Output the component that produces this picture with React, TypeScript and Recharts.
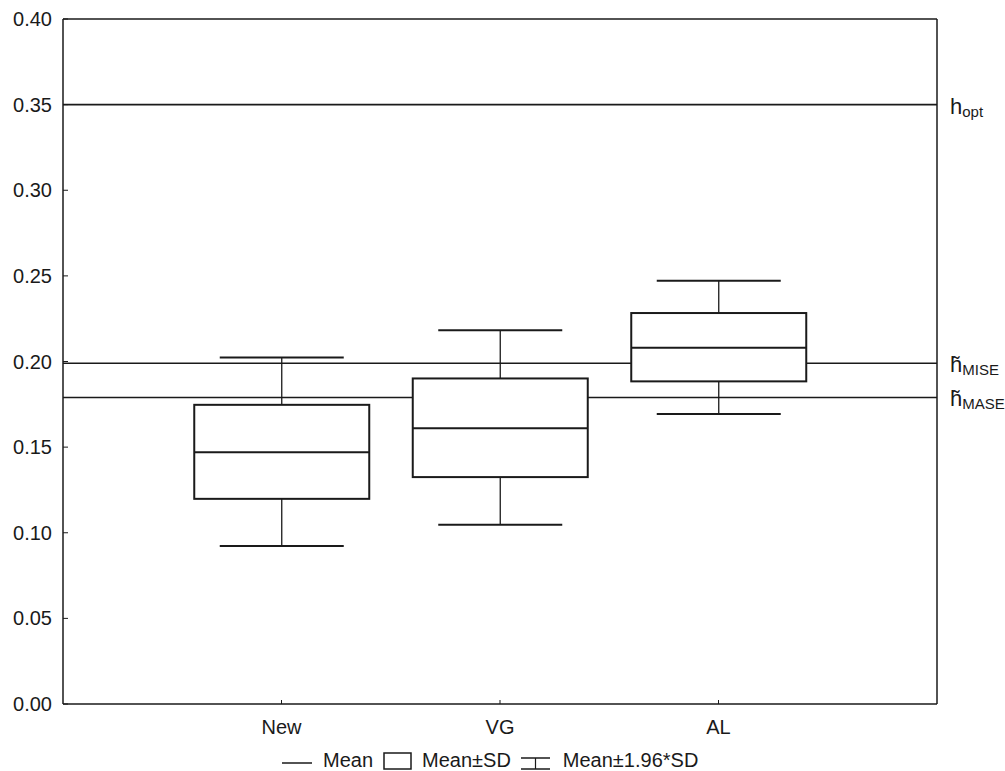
import { Bar, ComposedChart, ReferenceLine, XAxis, YAxis } from "recharts"

// groups and their summary stats (bandwidth estimates)
const groups = ["New", "VG", "AL"]
const means = [0.147, 0.161, 0.208]
const sdLow = [0.1198, 0.1325, 0.1884]
const sdHigh = [0.1747, 0.1901, 0.2283]
const ciLow = [0.0923, 0.1046, 0.1693]
const ciHigh = [0.2024, 0.2182, 0.2472]

const yTicks = [0, 0.05, 0.1, 0.15, 0.2, 0.25, 0.3, 0.35, 0.4]

// reference bandwidths drawn across the plot
const refValues = [0.35, 0.199, 0.179]
const refSubs = ["opt", "MISE", "MASE"]
const refTilde = [false, true, true]

const FONT = "'Liberation Sans', Arial, sans-serif"
const INK = "#1a1a1a"

const data = groups.map((name, i) => ({
    pos: i + 1,
    name,
    mean: means[i],
    sdLow: sdLow[i],
    sdHigh: sdHigh[i],
    range: [ciLow[i], ciHigh[i]],
}))

// draws whiskers, box and mean line inside the bar's pixel span
const BoxShape = (props: any) => {
    const { x, y, width, height, payload } = props
    const [lo, hi] = payload.range
    const top = height >= 0 ? y : y + height
    const h = Math.abs(height)
    const toY = (v: number) => top + ((hi - v) / (hi - lo)) * h
    const cx = x + width / 2
    const cap = 62
    return (
        <g>
            <line x1={cx} x2={cx} y1={toY(hi)} y2={toY(payload.sdHigh)} stroke={INK} strokeWidth={1.3} />
            <line x1={cx} x2={cx} y1={toY(payload.sdLow)} y2={toY(lo)} stroke={INK} strokeWidth={1.3} />
            <line x1={cx - cap} x2={cx + cap} y1={toY(hi)} y2={toY(hi)} stroke={INK} strokeWidth={2} />
            <line x1={cx - cap} x2={cx + cap} y1={toY(lo)} y2={toY(lo)} stroke={INK} strokeWidth={2} />
            <rect
                x={x}
                y={toY(payload.sdHigh)}
                width={width}
                height={toY(payload.sdLow) - toY(payload.sdHigh)}
                fill="#fff"
                stroke={INK}
                strokeWidth={2}
            />
            <line x1={x} x2={x + width} y1={toY(payload.mean)} y2={toY(payload.mean)} stroke={INK} strokeWidth={2} />
        </g>
    )
}

const refLabel = (sub: string, tilde: boolean) => (props: any) => {
    const { x, y, width } = props.viewBox
    const tx = x + width + 13
    return (
        <text x={tx} y={y + 9} fontFamily={FONT} fill={INK} fontSize={22}>
            {tilde ? "h\u0303" : "h"}
            <tspan fontSize={15} dy={3}>
                {sub}
            </tspan>
        </text>
    )
}

const Legend = () => (
    <div
        style={{
            position: "absolute",
            top: 750,
            left: 282,
            display: "flex",
            alignItems: "center",
            fontFamily: FONT,
            fontSize: 20,
            color: INK,
            lineHeight: "20px",
        }}
    >
        <svg width={30} height={18}>
            <line x1={0} x2={30} y1={12} y2={12} stroke={INK} strokeWidth={1.5} />
        </svg>
        <span style={{ marginLeft: 11 }}>Mean</span>
        <svg width={30} height={19} style={{ marginLeft: 10 }}>
            <rect x={1} y={2} width={27} height={16} fill="#fff" stroke={INK} strokeWidth={1.5} />
        </svg>
        <span style={{ marginLeft: 9 }}>Mean±SD</span>
        <svg width={30} height={19} style={{ marginLeft: 10 }}>
            <line x1={0} x2={29} y1={7} y2={7} stroke={INK} strokeWidth={1.5} />
            <line x1={14.5} x2={14.5} y1={7} y2={18} stroke={INK} strokeWidth={1.2} />
            <line x1={0} x2={29} y1={18} y2={18} stroke={INK} strokeWidth={1.5} />
        </svg>
        <span style={{ marginLeft: 12 }}>Mean±1.96*SD</span>
    </div>
)

export default function App() {
    return (
        <div style={{ position: "absolute", left: 0, top: 0, width: 1005, height: 771, background: "#fff" }}>
            <ComposedChart width={1005} height={771} data={data} margin={{ top: 18, right: 0, bottom: 0, left: 0 }}>
                <XAxis
                    dataKey="pos"
                    type="number"
                    domain={[0, 4]}
                    ticks={[1, 2, 3]}
                    tickFormatter={(v: number) => groups[v - 1]}
                    height={67}
                    tickSize={-4}
                    tickMargin={20}
                    axisLine={{ stroke: INK, strokeWidth: 1.5 }}
                    tickLine={{ stroke: INK }}
                    tick={{ fill: INK, fontSize: 20, fontFamily: FONT }}
                />
                <XAxis
                    xAxisId="top"
                    dataKey="pos"
                    type="number"
                    domain={[0, 4]}
                    orientation="top"
                    height={1}
                    tick={false}
                    tickLine={false}
                    axisLine={{ stroke: INK, strokeWidth: 1.5 }}
                />
                <YAxis
                    domain={[0, 0.4]}
                    ticks={yTicks}
                    tickFormatter={(v: number) => v.toFixed(2)}
                    width={63}
                    tickSize={-5}
                    tickMargin={16}
                    axisLine={{ stroke: INK, strokeWidth: 1.5 }}
                    tickLine={{ stroke: INK }}
                    tick={{ fill: INK, fontSize: 20, fontFamily: FONT }}
                />
                <YAxis
                    yAxisId="right"
                    orientation="right"
                    domain={[0, 0.4]}
                    ticks={yTicks}
                    width={68}
                    tickSize={-5}
                    tick={false}
                    axisLine={{ stroke: INK, strokeWidth: 1.5 }}
                    tickLine={{ stroke: INK }}
                />
                {refValues.map((v, i) => (
                    <ReferenceLine
                        key={refSubs[i]}
                        y={v}
                        stroke={INK}
                        strokeWidth={1.6}
                        zIndex={200}
                        label={refLabel(refSubs[i], refTilde[i])}
                    />
                ))}
                <Bar dataKey="range" barSize={175} shape={BoxShape} zIndex={300} isAnimationActive={false} />
            </ComposedChart>
            <Legend />
        </div>
    )
}
